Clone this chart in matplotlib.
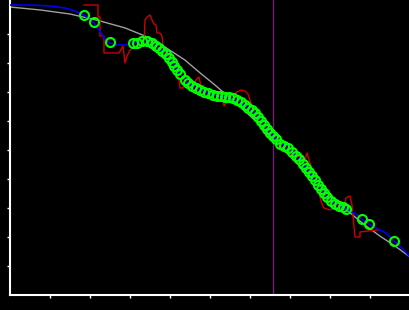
import matplotlib
matplotlib.use("Agg")
import matplotlib.pyplot as plt

# smooth reference curve (grey)
ref_x = [0, 0.75, 1.5, 2.25, 2.875, 3.375, 3.875, 4.375, 4.75, 5.125, 5.5, 5.875,
         6.25, 6.625, 7.0, 7.375, 7.75, 8.125, 8.5, 8.875, 9.25, 9.625, 10]
ref_y = [9.93, 9.83, 9.69, 9.45, 9.21, 8.93, 8.55, 8.10, 7.66, 7.24, 6.79, 6.34,
         5.86, 5.31, 4.79, 4.28, 3.76, 3.28, 2.83, 2.41, 2.03, 1.69, 1.31]

# fitted path (blue)
fit_x = [0, 0.5, 1.0, 1.375, 1.625, 1.85, 2.1, 2.25, 2.375, 2.5, 2.675, 2.875,
         3.075, 3.3, 3.55, 3.8, 4.05, 4.25, 4.45, 4.75, 5.075, 5.375, 5.675, 5.95,
         6.2, 6.425, 6.65, 6.95, 7.225, 7.475, 7.7, 7.925, 8.125, 8.4, 8.6, 8.8,
         8.975, 9.2, 9.4, 9.6, 9.8, 10]
fit_y = [10.0, 10.0, 9.966, 9.897, 9.793, 9.655, 9.379, 9.103, 8.828, 8.690, 8.621, 8.621,
         8.690, 8.759, 8.690, 8.414, 8.034, 7.621, 7.310, 7.069, 6.897, 6.828, 6.724, 6.448,
         6.138, 5.724, 5.379, 5.069, 4.690, 4.241, 3.793, 3.379, 3.138, 2.966, 2.828, 2.621,
         2.448, 2.276, 2.138, 1.862, 1.621, 1.310]

# raw noisy signal (red), read in pixels
raw_px = [84, 98, 98, 100, 100, 104, 104, 119, 123, 125, 127, 130, 134, 140, 144, 145,
          147, 150, 152, 154, 156, 157, 160, 162, 163, 165, 170, 175, 178, 180, 183, 185,
          188, 190, 193, 196, 199, 201, 205, 210, 215, 220, 223, 224, 226, 229, 233, 237,
          241, 245, 248, 250, 252, 254, 258, 262, 266, 270, 275, 280, 284, 290, 296, 301,
          305, 307, 310, 313, 316, 318, 320, 322, 324, 330, 335, 340, 344, 346, 350, 352,
          353, 355, 360, 360, 368, 378]
raw_py = [5, 5, 17, 17, 36, 36, 53, 53, 46, 63, 56, 50, 47, 45, 44, 20,
          17, 15, 20, 24, 25, 33, 33, 36, 46, 52, 58, 66, 72, 88, 88, 80,
          84, 87, 84, 80, 77, 86, 88, 90, 92, 95, 99, 106, 103, 99, 95, 92,
          90, 91, 94, 100, 107, 112, 120, 130, 136, 138, 142, 146, 150, 154, 156, 157,
          160, 153, 163, 176, 172, 190, 197, 204, 208, 210, 207, 208, 207, 198, 196, 205,
          217, 237, 237, 232, 231, 230]

# sampled points (green circles)
pts_x = [1.85, 2.1, 2.5,
         3.075, 3.175, 3.3, 3.425, 3.55, 3.65, 3.725, 3.8, 3.9, 3.975, 4.05, 4.1,
         4.175, 4.25, 4.375, 4.45, 4.55, 4.65, 4.75, 4.85, 4.95, 5.075, 5.175, 5.275,
         5.375, 5.475, 5.575, 5.675, 5.775, 5.875, 5.95, 6.05, 6.125, 6.2, 6.275, 6.35,
         6.425, 6.5, 6.575, 6.65, 6.75, 6.85, 6.95, 7.05, 7.15, 7.225, 7.325, 7.4,
         7.475, 7.55, 7.625, 7.7, 7.775, 7.85, 7.925, 8.025, 8.125, 8.225, 8.325, 8.4,
         8.8, 8.975, 9.6]
pts_y = [9.655, 9.414, 8.724,
         8.690, 8.690, 8.759, 8.759, 8.690, 8.586, 8.517, 8.414, 8.310, 8.172, 8.034, 7.897,
         7.759, 7.621, 7.414, 7.310, 7.207, 7.138, 7.069, 7.0, 6.966, 6.897, 6.862, 6.862,
         6.828, 6.828, 6.793, 6.724, 6.655, 6.552, 6.448, 6.379, 6.276, 6.138, 6.0, 5.862,
         5.724, 5.586, 5.483, 5.379, 5.207, 5.138, 5.069, 4.931, 4.793, 4.690, 4.517, 4.379,
         4.241, 4.103, 3.966, 3.793, 3.655, 3.517, 3.379, 3.241, 3.138, 3.069, 3.034, 2.966,
         2.621, 2.448, 1.862]

marker_x = 6.575

raw_x = [(p - 10) / 40 for p in raw_px]
raw_y = [(295 - p) / 29 for p in raw_py]

fig = plt.figure(figsize=(4.1, 3.1), dpi=100, facecolor='black')
ax = fig.add_axes([10/410, 15/310, 400/410, 295/310])
ax.set_facecolor('black')

ax.axvline(marker_x, color='#7a1a7a', lw=1, zorder=1)
ax.plot(ref_x, ref_y, color='#a0a0a0', lw=1.0, zorder=2)
ax.plot(raw_x, raw_y, color='#cc0000', lw=1, zorder=3)
ax.plot(fit_x, fit_y, color='#0000ee', lw=1.2, zorder=4)
ax.plot(pts_x, pts_y, 'o', mfc='none', mec='#00ff00', ms=6.5, mew=1.5, zorder=5)

ax.set_xlim(0, 10)
ax.set_ylim(0, 295/29)
ax.set_xticks(range(1, 10))
ax.set_yticks(range(1, 10))
ax.tick_params(colors='white', direction='out', length=2.5, width=1,
               labelleft=False, labelbottom=False)
for s in ['top', 'right']:
    ax.spines[s].set_visible(False)
for s in ['left', 'bottom']:
    ax.spines[s].set_color('white')
    ax.spines[s].set_linewidth(1.5)

fig.savefig('out.png', dpi=100, facecolor='black')
